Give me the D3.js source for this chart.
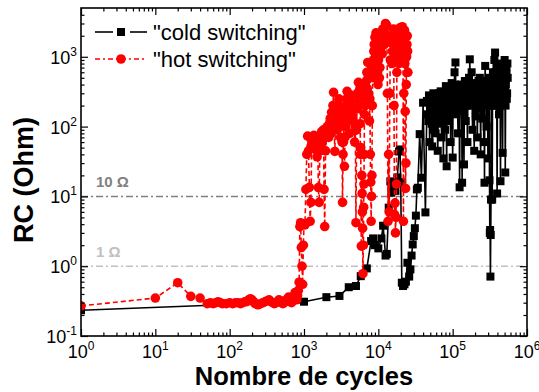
<!DOCTYPE html>
<html><head><meta charset="utf-8">
<script src="https://cdn.jsdelivr.net/npm/d3@7"></script>
<style>body{margin:0;background:#fff}svg{display:block}text{font-family:"Liberation Sans",Arial,sans-serif}</style>
</head><body><svg id="c" width="539" height="392"></svg>
<script>
const xTickExponents=[0,1,2,3,4,5,6];
const yTickExponents=[-1,0,1,2,3];
const seriesNames=['"cold switching"','"hot switching"'];
const refLevels=[10,1];
const refLabels=["10 \u03A9","1 \u03A9"];
const xTitle="Nombre de cycles";
const yTitle="RC (Ohm)";

const coldSeries=[[1,0.234],[1000,0.31],[2000,0.36],[3000,0.375],[4000,0.50],[5000,0.52],[5800,0.72],[7000,0.93],[8000,2.3],[8500,2.5],[9000,2.0],[10000,1.8],[11000,2.5],[11600,3.8],[12500,1.42],[13000,1.5],[13800,6.9],[14500,16.4],[15000,11.3],[16000,15.7],[17000,12],[18000,18.7],[19000,44],[19600,47],[20000,16],[20700,0.58],[21500,0.52],[22500,0.55],[23500,0.6],[24600,1.12],[26000,0.71],[27000,0.9],[28000,1.42],[29000,2.05],[30000,2.7],[31000,3.5],[32000,5.3],[33000,12.6],[34000,13.3],[36000,78],[38000,18.5],[40000,220],[43000,5.9],
[45000,233],[46000,150],[47000,120],[48000,280],[49000,60],[50000,200],[51000,180],[52000,110],[53000,52],[54000,240],[55000,300],[56000,90],[57000,150],[58000,260],[59000,80],[60000,190],[61000,250],[62000,130],[63000,45],[64000,170],[65000,200],[66000,300],[67000,110],[68000,220],[69000,320],[70000,140],[71000,70],[72000,250],[73000,160],[74000,280],[75000,35],[76000,190],[77000,260],[78000,150],[79000,90],[80000,300],[81000,380],[82000,170],[83000,27],[84000,230],[85000,200],[86500,330],[88000,120],[89500,260],[91000,300],[92500,180],[94000,60],[95500,350],[97000,420],[98500,200],[100000,36],[101500,300],[103000,250],[104500,180],[106000,600],[107500,400],[109000,830],[110500,260],[112000,150],[113500,320],[115000,350],[116500,200],[118000,80],[119500,300],[121000,280],[122500,170],[124000,13.5],[125500,250],[127000,200],[128500,350],[130000,400],[132000,220],[134000,15.7],[136000,260],[138000,300],[140000,180],[142000,28.7],[144000,330],[146000,450],[148000,250],[150000,120],[152000,300],[154000,350],[156000,200],[158000,60],[160000,240],[162000,280],[164000,380],[166000,500],[168000,300],[170000,920],[172500,350],[175000,200],[177500,420],[180000,600],[182500,250],[185000,90],[187500,300],[190000,350],[192500,220],[195000,45],[197500,280],[200000,250],[202500,380],[205000,140],[207500,300],[210000,400],[212500,200],[215000,70],[217500,330],[220000,300],[223000,450],[226000,180],[229000,350],[232000,500],[235000,260],[238000,40],[241000,320],[244000,250],[247000,400],[250000,130],[253000,300],[256000,380],[259000,220],[262000,60],[265000,350],[268000,15.7],[271000,400],[274000,740],[277000,250],[280000,300],[283000,450],[286000,100],[289000,380],[292000,450],[295000,200],[298000,35],[301000,330],[304000,250],[307000,420],[310000,500],[313000,17],[316000,3.0],[319000,3.3],[322000,0.71],[325000,2.8],[328000,9],[331000,280],[334000,400],[337000,200],[340000,9],[344000,300],[348000,600],[352000,350],[356000,200],[360000,500],[364000,900],[368000,450],[372000,1150],[376000,600],[380000,300],[384000,500],[388000,700],[392000,250],[396000,11],[400000,200],[404000,350],[408000,500],[412000,600],[416000,250],[420000,150],[425000,450],[430000,800],[435000,300],[440000,16.5],[445000,200],[450000,300],[455000,600],[460000,500],[465000,250],[470000,42],[475000,300],[480000,700],[485000,400],[490000,250],[495000,500],[500000,900],[505000,350],[510000,22],[515000,200],[520000,400],[525000,700],[530000,600],[535000,250],[540000,300],[545000,800],[550000,500]];

const hotSeries=[[1,0.27],[10,0.35],[20,0.58],[30,0.37],[40,0.35],[50,0.29],[55,0.30],[60,0.29],[65,0.30],[70,0.31],[75,0.30],[80,0.29],[90,0.29],[100,0.30],[110,0.29],[120,0.30],[130,0.30],[140,0.29],[150,0.30],[160,0.31],[170,0.31],[180,0.33],[190,0.34],[200,0.33],[210,0.31],[220,0.29],[240,0.28],[260,0.29],[280,0.30],[300,0.31],[320,0.32],[340,0.33],[360,0.31],[380,0.30],[400,0.29],[420,0.30],[440,0.31],[460,0.33],[480,0.32],[500,0.30],[520,0.29],[540,0.30],[560,0.31],[580,0.33],[600,0.34],[620,0.36],[640,0.33],[660,0.31],[680,0.30],[700,0.32],[720,0.35],[740,0.38],[760,0.42],[780,0.36],[800,0.33],[820,0.38],[840,0.45],[860,0.59],
[880,3.7],[900,4.2],[920,1.85],[940,1.0],[960,0.55],[980,2.0],[1000,4.0],[1030,3.9],[1060,12.6],[1090,40],[1120,73],[1150,45],[1180,13.5],[1210,4.4],[1240,8.2],[1270,55],[1300,68],[1330,50],[1360,75],[1400,48],[1430,62],[1460,70],[1500,37],[1530,55],[1560,13.4],[1600,8.2],[1630,45],[1660,65],[1700,70],[1730,85],[1760,58],[1800,67],[1830,90],[1860,12.6],[1900,3.7],[1950,45],[2000,75],[2050,100],[2100,95],[2150,70],[2200,110],[2250,130],[2300,80],[2350,160],[2400,120],[2450,200],[2500,310],[2550,90],[2600,44],[2650,120],[2700,90],[2750,180],[2800,150],[2850,100],[2900,200],[2950,250],[3000,115],[3050,160],[3100,70],[3150,110],[3200,140],[3250,60],[3300,8.2],[3350,40],[3400,60],[3450,120],[3500,27],[3550,70],[3600,100],[3650,200],[3700,180],[3750,250],[3800,320],[3850,150],[3900,250],[3950,200],[4000,130],[4050,220],[4100,80],[4150,150],[4200,160],[4300,280],[4400,220],[4500,150],[4600,120],[4700,200],[4800,60],[4900,100],[5000,4.2],[5100,90],[5150,200],[5200,300],[5300,180],[5400,430],[5500,260],[5600,200],[5650,350],[5700,110],[5750,40],[5800,50],[5900,1.94],[6000,20],[6050,11],[6100,6],[6150,3.5],[6200,0.78],[6300,2.0],[6350,7],[6400,15],[6450,40],[6500,150],[6550,300],[6600,400],[6700,200],[6800,250],[6900,450],[7000,600],[7100,350],[7200,830],[7300,500],[7400,300],[7500,600],[7600,120],[7700,250],[7800,40],[7900,16],[8000,4.4],[8100,10],[8200,20],[8300,200],[8400,500],[8500,700],[8600,900],[8700,1200],[8800,1500],[8900,700],[9000,1900],[9150,1000],[9300,2200],[9450,1400],[9600,800],[9750,600],[9900,400],[10050,900],[10200,1200],[10350,500],[10500,700],[10750,1300],[11000,1800],[11250,1100],[11500,2500],[11750,2000],[12000,1500],[12250,2200],[12500,3000],[12750,1700],[13000,2800],[13250,300],[13500,4.4],[13750,40],[14000,6],[14250,300],[14500,900],[14750,1600],[15000,2000],[15250,800],[15500,1200],[15750,1900],[16000,2500],[16250,200],[16500,5.5],[16750,8],[17000,3.0],[17250,5],[17500,15],[17750,600],[18000,1500],[18250,1000],[18500,2200],[18750,1400],[19000,800],[19250,1700],[19500,2600],[19750,1200],[20000,2500],[20250,2000],[20500,1800],[20750,1300],[21000,2700],[21250,1500],[21500,900],[21750,4.4],[22000,300],[22250,1200],[22500,2400],[22750,800],[23000,165],[23250,13],[23500,30],[23750,400],[24000,1000],[24250,1500],[24500,2000],[24750,1200],[25000,600]];

const svg=d3.select("#c");
const L=81,R=527,T=8,B=336;
const x=d3.scaleLog().domain([1,1e6]).range([L,R]);
const y=d3.scaleLog().domain([0.1,5000]).range([B,T]);

const xMajor=xTickExponents.map(e=>Math.pow(10,e));
const yMajor=yTickExponents.map(e=>Math.pow(10,e));
function minors(major){const out=[];for(let i=0;i<major.length-1;i++){for(let j=2;j<10;j++)out.push(major[i]*j);}return out;}
const xMinor=minors(xMajor);
const yMinor=minors(yMajor.concat([1e4])).filter(v=>v<5000);

// reference lines
const refColors=["#808080","#c0c0c0"];
refLevels.forEach((v,i)=>{
  svg.append("line").attr("x1",L).attr("x2",R).attr("y1",y(v)).attr("y2",y(v))
    .attr("stroke",refColors[i]).attr("stroke-width",1.5).attr("stroke-dasharray","7,3,2,3");
  svg.append("text").attr("x",96).attr("y",y(v)-9).attr("font-size",15).attr("font-weight","bold")
    .attr("fill",refColors[i]).text(refLabels[i]);
});

svg.append("clipPath").attr("id","clp").append("rect").attr("x",L).attr("y",T).attr("width",R-L).attr("height",B-T);
const plot=svg.append("g").attr("clip-path","url(#clp)");

const line=d3.line().x(d=>x(d[0])).y(d=>y(d[1]));
const sq=8, rad=4.8;
// cold
plot.append("path").datum(coldSeries).attr("d",line).attr("fill","none").attr("stroke","#000").attr("stroke-width",1.6);
plot.selectAll(".sq").data(coldSeries).enter().append("rect").attr("x",d=>x(d[0])-sq/2).attr("y",d=>y(d[1])-sq/2)
  .attr("width",sq).attr("height",sq).attr("fill","#000");
// hot
plot.append("path").datum(hotSeries).attr("d",line).attr("fill","none").attr("stroke","#ff0000").attr("stroke-width",1.6).attr("stroke-dasharray","5,3");
plot.selectAll(".ci").data(hotSeries).enter().append("circle").attr("cx",d=>x(d[0])).attr("cy",d=>y(d[1]))
  .attr("r",rad).attr("fill","#ff0000");

// axes
function drawAxis(axisFn,scale,vals,size,transform){
  const a=axisFn(scale).tickValues(vals).tickSizeInner(-size).tickSizeOuter(0).tickFormat("");
  const g=svg.append("g").attr("transform",transform).call(a);
  g.select(".domain").remove();
  g.selectAll("line").attr("stroke","#000").attr("stroke-width",1.2);
}
drawAxis(d3.axisBottom,x,xMajor,7,`translate(0,${B})`);
drawAxis(d3.axisBottom,x,xMinor,3.5,`translate(0,${B})`);
drawAxis(d3.axisTop,x,xMajor,7,`translate(0,${T})`);
drawAxis(d3.axisTop,x,xMinor,3.5,`translate(0,${T})`);
drawAxis(d3.axisLeft,y,yMajor,7,`translate(${L},0)`);
drawAxis(d3.axisLeft,y,yMinor,3.5,`translate(${L},0)`);
drawAxis(d3.axisRight,y,yMajor,7,`translate(${R},0)`);
drawAxis(d3.axisRight,y,yMinor,3.5,`translate(${R},0)`);
svg.append("rect").attr("x",L).attr("y",T).attr("width",R-L).attr("height",B-T).attr("fill","none").attr("stroke","#000").attr("stroke-width",1.6);

// tick labels
xTickExponents.forEach(e=>{
  const t=svg.append("text").attr("x",x(Math.pow(10,e))).attr("y",358).attr("text-anchor","middle").attr("font-size",18);
  t.append("tspan").text("10");
  t.append("tspan").attr("dy",-8).attr("font-size",12).text(e);
});
yTickExponents.forEach(e=>{
  const t=svg.append("text").attr("x",77).attr("y",y(Math.pow(10,e))+7).attr("text-anchor","end").attr("font-size",18);
  t.append("tspan").text("10");
  t.append("tspan").attr("dy",-8).attr("font-size",12).text(e===-1?"-1":e);
});

// titles
svg.append("text").attr("x",(L+R)/2).attr("y",385).attr("text-anchor","middle").attr("font-size",25.5).attr("font-weight","bold").text(xTitle);
svg.append("text").attr("transform",`translate(33,${(T+B)/2+8}) rotate(-90)`).attr("text-anchor","middle").attr("font-size",27).attr("font-weight","bold").text(yTitle);

// legend
const legY=[32,59];
[[95,113],[130,147]].forEach(s=>{
  svg.append("line").attr("x1",s[0]).attr("x2",s[1]).attr("y1",legY[0]).attr("y2",legY[0]).attr("stroke","#000").attr("stroke-width",1.6);
});
svg.append("rect").attr("x",121-sq/2).attr("y",legY[0]-sq/2).attr("width",sq).attr("height",sq).attr("fill","#000");
svg.append("line").attr("x1",95).attr("x2",147).attr("y1",legY[1]).attr("y2",legY[1]).attr("stroke","#ff0000").attr("stroke-width",1.6).attr("stroke-dasharray","5,3,2,3");
svg.append("circle").attr("cx",121).attr("cy",legY[1]).attr("r",rad).attr("fill","#ff0000");
seriesNames.forEach((n,i)=>{
  svg.append("text").attr("x",153).attr("y",legY[i]+8).attr("font-size",22).text(n);
});
</script></body></html>
